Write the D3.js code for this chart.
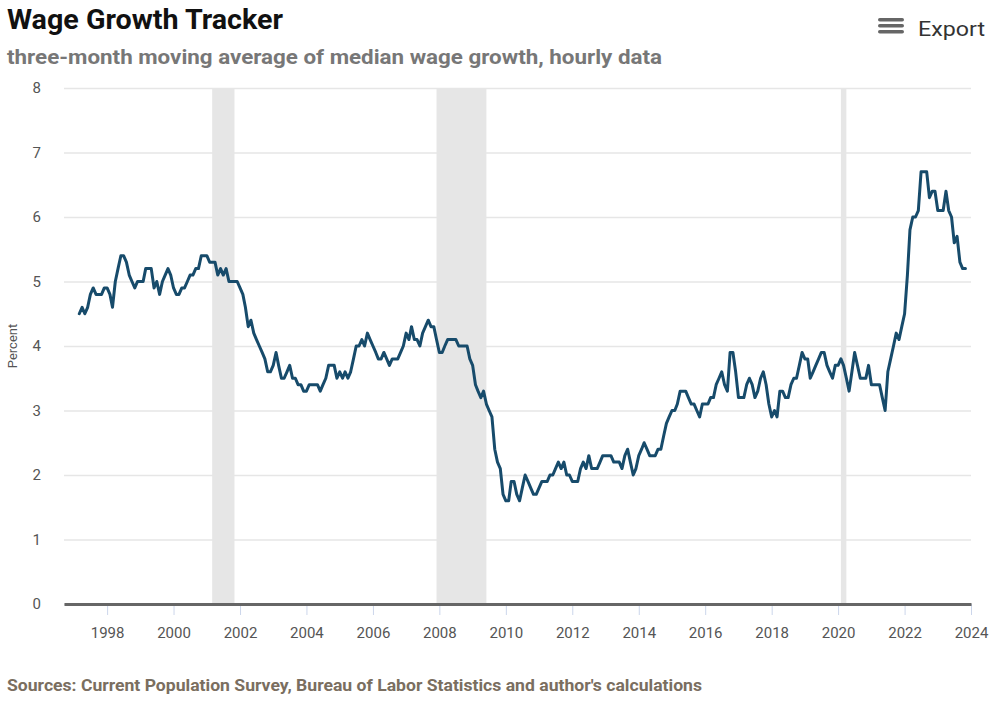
<!DOCTYPE html>
<html>
<head>
<meta charset="utf-8">
<script src="https://cdn.jsdelivr.net/npm/d3@7"></script>
<style>
  body { margin: 0; background: #fff; }
  svg { display: block; font-family: Roboto, "Open Sans", sans-serif; }
</style>
</head>
<body>
<div id="chart"></div>
<script>
// monthly values, three-month moving average, starting March 1997
const startYear = 1997, startMonth = 2;
const wageGrowth = [
  // 1997 (Mar-Dec)
  4.5, 4.6, 4.5, 4.6, 4.8, 4.9, 4.8, 4.8, 4.8, 4.9,
  // 1998
  4.9, 4.8, 4.6, 5.0, 5.2, 5.4, 5.4, 5.3, 5.1, 5.0, 4.9, 5.0,
  // 1999
  5.0, 5.0, 5.2, 5.2, 5.2, 4.9, 5.0, 4.8, 5.0, 5.1, 5.2, 5.1,
  // 2000
  4.9, 4.8, 4.8, 4.9, 4.9, 5.0, 5.1, 5.1, 5.2, 5.2, 5.4, 5.4,
  // 2001
  5.4, 5.3, 5.3, 5.3, 5.1, 5.2, 5.1, 5.2, 5.0, 5.0, 5.0, 5.0,
  // 2002
  4.9, 4.8, 4.6, 4.3, 4.4, 4.2, 4.1, 4.0, 3.9, 3.8, 3.6, 3.6,
  // 2003
  3.7, 3.9, 3.7, 3.5, 3.5, 3.6, 3.7, 3.5, 3.5, 3.4, 3.4, 3.3,
  // 2004
  3.3, 3.4, 3.4, 3.4, 3.4, 3.3, 3.4, 3.5, 3.7, 3.7, 3.7, 3.5,
  // 2005
  3.6, 3.5, 3.6, 3.5, 3.6, 3.8, 4.0, 4.0, 4.1, 4.0, 4.2, 4.1,
  // 2006
  4.0, 3.9, 3.8, 3.8, 3.9, 3.8, 3.7, 3.8, 3.8, 3.8, 3.9, 4.0,
  // 2007
  4.2, 4.1, 4.3, 4.1, 4.1, 4.0, 4.2, 4.3, 4.4, 4.3, 4.3, 4.1,
  // 2008
  3.9, 3.9, 4.0, 4.1, 4.1, 4.1, 4.1, 4.0, 4.0, 4.0, 4.0, 3.8,
  // 2009
  3.7, 3.4, 3.3, 3.2, 3.3, 3.1, 3.0, 2.9, 2.4, 2.2, 2.1, 1.7,
  // 2010
  1.6, 1.6, 1.9, 1.9, 1.7, 1.6, 1.8, 2.0, 1.9, 1.8, 1.7, 1.7,
  // 2011
  1.8, 1.9, 1.9, 1.9, 2.0, 2.0, 2.1, 2.2, 2.1, 2.2, 2.0, 2.0,
  // 2012
  1.9, 1.9, 1.9, 2.1, 2.2, 2.1, 2.3, 2.1, 2.1, 2.1, 2.2, 2.3,
  // 2013
  2.3, 2.3, 2.3, 2.2, 2.2, 2.2, 2.1, 2.3, 2.4, 2.2, 2.0, 2.1,
  // 2014
  2.3, 2.4, 2.5, 2.4, 2.3, 2.3, 2.3, 2.4, 2.4, 2.6, 2.8, 2.9,
  // 2015
  3.0, 3.0, 3.1, 3.3, 3.3, 3.3, 3.2, 3.1, 3.1, 3.0, 2.9, 3.1,
  // 2016
  3.1, 3.1, 3.2, 3.2, 3.4, 3.5, 3.6, 3.4, 3.3, 3.9, 3.9, 3.6,
  // 2017
  3.2, 3.2, 3.2, 3.4, 3.5, 3.4, 3.2, 3.3, 3.5, 3.6, 3.4, 3.1,
  // 2018
  2.9, 3.0, 2.9, 3.3, 3.3, 3.2, 3.2, 3.4, 3.5, 3.5, 3.7, 3.9,
  // 2019
  3.8, 3.8, 3.5, 3.6, 3.7, 3.8, 3.9, 3.9, 3.7, 3.6, 3.5, 3.7,
  // 2020
  3.7, 3.8, 3.7, 3.5, 3.3, 3.6, 3.9, 3.7, 3.5, 3.5, 3.5, 3.7,
  // 2021
  3.4, 3.4, 3.4, 3.4, 3.2, 3.0, 3.6, 3.8, 4.0, 4.2, 4.1, 4.3,
  // 2022
  4.5, 5.1, 5.8, 6.0, 6.0, 6.1, 6.7, 6.7, 6.7, 6.3, 6.4, 6.4,
  // 2023 (Jan-Nov)
  6.1, 6.1, 6.1, 6.4, 6.1, 6.0, 5.6, 5.7, 5.3, 5.2, 5.2
];

// NBER recessions
const recessionStarts = ["2001-03-01", "2007-12-01", "2020-02-01"];
const recessionEnds   = ["2001-11-01", "2009-06-01", "2020-04-01"];

const yTicks = [0, 1, 2, 3, 4, 5, 6, 7, 8];
const xTickYears = [1998, 2000, 2002, 2004, 2006, 2008, 2010, 2012, 2014, 2016, 2018, 2020, 2022, 2024];

const W = 1000, H = 701;
const plot = { left: 64, right: 971, top: 88, bottom: 604 };

const svg = d3.select("#chart").append("svg")
    .attr("width", W)
    .attr("height", H);

const parse = d3.timeParse("%Y-%m-%d");
const series = wageGrowth.map((v, i) => ({ date: new Date(startYear, startMonth + i, 1), value: v }));

const x = d3.scaleTime()
    .domain([new Date(1996, 8, 14), new Date(2024, 0, 1)])
    .range([plot.left, plot.right]);
const y = d3.scaleLinear()
    .domain([0, 8])
    .range([plot.bottom, plot.top]);

// recession shading
svg.append("g").selectAll("rect")
    .data(recessionStarts.map((s, i) => ({ s: parse(s), e: parse(recessionEnds[i]) })))
    .enter().append("rect")
    .attr("x", d => x(d.s))
    .attr("width", d => x(d.e) - x(d.s))
    .attr("y", plot.top)
    .attr("height", plot.bottom - plot.top)
    .attr("fill", "#e6e6e6");

// gridlines + y labels
const yAxis = svg.append("g")
    .attr("transform", `translate(${plot.left},0)`)
    .call(d3.axisLeft(y).tickValues(yTicks).tickSize(-(plot.right - plot.left)).tickPadding(23));
yAxis.select(".domain").remove();
yAxis.selectAll(".tick line").attr("stroke", "#e6e6e6").attr("stroke-width", 1.5);
yAxis.selectAll(".tick text")
    .attr("fill", "#555").style("font-size", "15px").style("font-family", "Roboto, sans-serif");

// x axis
const xAxis = svg.append("g")
    .attr("transform", `translate(0,${plot.bottom})`)
    .call(d3.axisBottom(x)
        .tickValues(xTickYears.map(yr => new Date(yr, 0, 1)))
        .tickFormat(d3.timeFormat("%Y"))
        .tickSize(11).tickPadding(12).tickSizeOuter(0));
xAxis.select(".domain").attr("stroke", "#666").attr("stroke-width", 3);
xAxis.selectAll(".tick line").attr("stroke", "#ccd6eb").attr("stroke-width", 1);
xAxis.selectAll(".tick text")
    .attr("fill", "#555").style("font-size", "15px").style("font-family", "Roboto, sans-serif");
xAxis.select(".domain").raise();

// y axis title
svg.append("text")
    .attr("transform", `translate(17,${(plot.top + plot.bottom) / 2}) rotate(-90)`)
    .attr("text-anchor", "middle")
    .attr("fill", "#555")
    .style("font-size", "13px")
    .text("Percent");

// the line
const line = d3.line()
    .x(d => x(d.date))
    .y(d => y(d.value));

svg.append("path")
    .datum(series)
    .attr("fill", "none")
    .attr("stroke", "#174b6b")
    .attr("stroke-width", 3)
    .attr("stroke-linejoin", "round")
    .attr("stroke-linecap", "round")
    .attr("d", line);

// title, subtitle (original font is condensed, so stretch to its width)
svg.append("text")
    .attr("x", 7).attr("y", 29)
    .attr("fill", "#111")
    .attr("textLength", 276).attr("lengthAdjust", "spacingAndGlyphs")
    .style("font-size", "27px").style("font-weight", "bold")
    .text("Wage Growth Tracker");

svg.append("text")
    .attr("x", 7).attr("y", 64)
    .attr("fill", "#777")
    .attr("textLength", 655).attr("lengthAdjust", "spacingAndGlyphs")
    .style("font-size", "21px").style("font-weight", "bold")
    .text("three-month moving average of median wage growth, hourly data");

// export button
const exp = svg.append("g").attr("transform", "translate(878,18)");
[0, 6, 12].forEach(dy => {
    exp.append("rect")
        .attr("x", 0).attr("y", dy)
        .attr("width", 26).attr("height", 3.5)
        .attr("rx", 1.75)
        .attr("fill", "#666");
});
exp.append("text")
    .attr("x", 40).attr("y", 18)
    .attr("fill", "#333")
    .attr("textLength", 67).attr("lengthAdjust", "spacingAndGlyphs")
    .style("font-size", "21px")
    .text("Export");

// source note
svg.append("text")
    .attr("x", 7).attr("y", 691)
    .attr("fill", "#7a6e60")
    .attr("textLength", 695).attr("lengthAdjust", "spacingAndGlyphs")
    .style("font-size", "17px").style("font-weight", "bold")
    .text("Sources: Current Population Survey, Bureau of Labor Statistics and author's calculations");
</script>
</body>
</html>
